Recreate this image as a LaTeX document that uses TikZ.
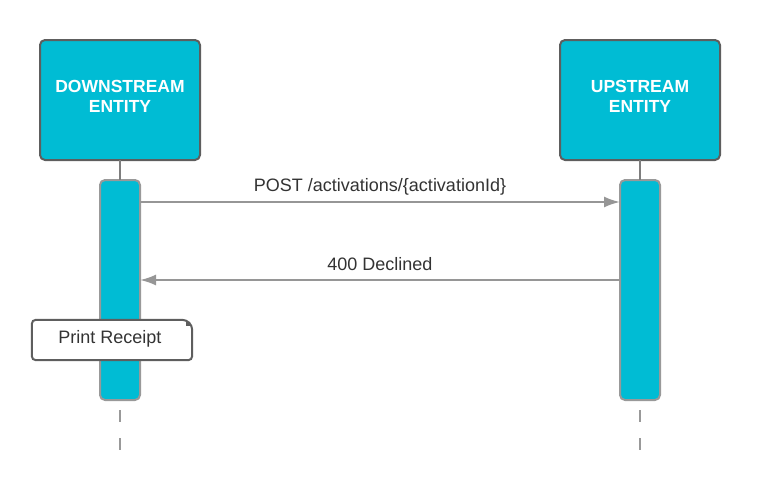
\documentclass[tikz,border=0pt]{standalone}
\usepackage{fontspec}
\setmainfont{Liberation Sans}
\usetikzlibrary{arrows.meta,positioning}
\definecolor{lucidcyan}{RGB}{0,188,212}
\definecolor{boxedge}{RGB}{94,94,94}
\definecolor{actedge}{RGB}{153,153,153}
\definecolor{msggray}{RGB}{150,150,150}
\definecolor{txtgray}{RGB}{51,51,51}

\begin{document}
\begin{tikzpicture}[x=1pt,y=-1pt]
\tikzstyle{entity}=[rectangle, rounded corners=5pt, fill=lucidcyan, draw=boxedge, line width=2pt, outer sep=0pt, minimum width=160pt, minimum height=120pt, text=white, font=\fontsize{17.5}{20}\selectfont\bfseries, align=center, inner sep=0pt]
\tikzstyle{activation}=[rectangle, rounded corners=5pt, fill=lucidcyan, draw=actedge, line width=2pt, outer sep=0pt, minimum width=40pt, minimum height=220pt, inner sep=0pt]
\tikzstyle{lifeline}=[line width=2pt, draw=boxedge!80]
\tikzstyle{tail}=[line width=2pt, draw=actedge, dash pattern=on 12pt off 16pt, dash phase=18pt]
\tikzstyle{msg}=[-{Latex[length=16pt,width=11pt]}, line width=2pt, draw=msggray]
\tikzstyle{msglabel}=[text=txtgray, font=\fontsize{18}{21}\selectfont, inner sep=0pt]
\tikzstyle{notebox}=[rectangle, fill=white, minimum width=160pt, minimum height=40pt, text=txtgray, font=\fontsize{18}{21}\selectfont, inner sep=0pt]
  \useasboundingbox (0,0) rectangle (760,490);
  \node[entity] (down) at (120,100) {};
  \node[entity] (up) [right=360pt of down] {};
  \node[text=white, font=\fontsize{17.5}{20}\selectfont\bfseries, align=center] (downtxt) at (120,96) {DOWNSTREAM\\ENTITY};
  \node[text=white, font=\fontsize{17.5}{20}\selectfont\bfseries, align=center] (uptxt) at (640,96) {UPSTREAM\\ENTITY};
  \node[activation] (adown) at (120,290) {};
  \node[activation] (aup) at (640,290) {};
  \coordinate (enddown) at (120,450);
  \coordinate (endup) at (640,450);

  \draw[lifeline] (down.south) -- (adown.north);
  \draw[lifeline] (up.south) -- (aup.north);
  \draw[tail] (adown.south) -- (enddown);
  \draw[tail] (aup.south) -- (endup);

  \draw[msg] ([yshift=-22pt]adown.north east) -- node[msglabel, above=6pt] {POST /activations/\{activationId\}} ([yshift=-22pt]aup.north west);
  \draw[msg] ([yshift=-100pt]aup.north west) -- node[msglabel, above=8pt] {400 Declined} ([yshift=-100pt]adown.north east);

  \node[notebox] (rcpt) at (112,340) {};
  \node[text=txtgray, font=\fontsize{18}{21}\selectfont, inner sep=0pt] (rcpttxt) at (110,339) {Print Receipt};
  \draw[line width=2pt, draw=boxedge, rounded corners=4pt] ([xshift=-6pt]rcpt.north east) -- (rcpt.north west) -- (rcpt.south west) -- (rcpt.south east) -- ([yshift=-6pt]rcpt.north east) -- cycle;
  \fill[boxedge] ([xshift=-6pt]rcpt.north east) -- ([yshift=-6pt]rcpt.north east) -- ([xshift=-6pt,yshift=-6pt]rcpt.north east) -- cycle;
\end{tikzpicture}
\end{document}
